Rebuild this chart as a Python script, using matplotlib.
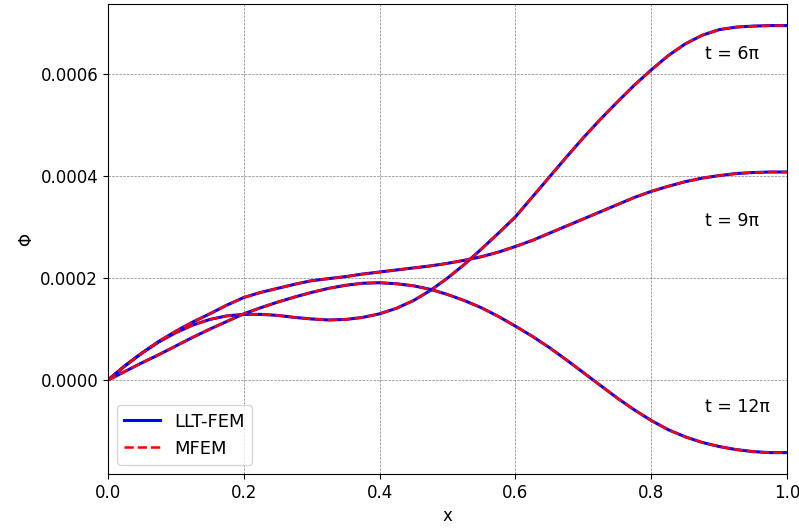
import matplotlib.pyplot as plt

# sample positions along x
x = [0, 0.025, 0.05, 0.075, 0.1, 0.125, 0.15, 0.175, 0.2, 0.225, 0.25, 0.275,
     0.3, 0.325, 0.35, 0.375, 0.4, 0.425, 0.45, 0.475, 0.5, 0.525, 0.55, 0.575,
     0.6, 0.625, 0.65, 0.675, 0.7, 0.725, 0.75, 0.775, 0.8, 0.825, 0.85, 0.875,
     0.9, 0.925, 0.95, 0.975, 1.0]

# Phi at t = 6pi
phi_6 = [0, 0.000028, 0.000053, 0.000075, 0.000093, 0.000108, 0.000119, 0.000126,
         0.000129, 0.000129, 0.000127, 0.000123, 0.00012, 0.000118, 0.000119,
         0.000123, 0.00013, 0.000141, 0.000156, 0.000176, 0.0002, 0.000227,
         0.000257, 0.000288, 0.00032, 0.000359, 0.000398, 0.000437, 0.000475,
         0.000511, 0.000545, 0.000578, 0.000608, 0.000636, 0.000659, 0.000676,
         0.000687, 0.000692, 0.000694, 0.000695, 0.000695]

# Phi at t = 9pi
phi_9 = [0, 0.000028, 0.000053, 0.000076, 0.000096, 0.000114, 0.00013, 0.000147,
         0.000162, 0.000172, 0.00018, 0.000188, 0.000195, 0.000199, 0.000203,
         0.000208, 0.000212, 0.000216, 0.00022, 0.000224, 0.000229, 0.000235,
         0.000242, 0.000251, 0.000262, 0.000274, 0.000288, 0.000302, 0.000316,
         0.00033, 0.000344, 0.000358, 0.00037, 0.00038, 0.000389, 0.000396,
         0.000401, 0.000405, 0.000407, 0.000408, 0.000408]

# Phi at t = 12pi
phi_12 = [0, 0.000017, 0.000034, 0.00005, 0.000067, 0.000084, 0.0001, 0.000115,
          0.00013, 0.000142, 0.000153, 0.000163, 0.000172, 0.00018, 0.000186,
          0.00019, 0.000191, 0.000189, 0.000185, 0.000178, 0.000168, 0.000156,
          0.000142, 0.000125, 0.000106, 0.000086, 0.000064, 0.00004, 0.000015,
          -0.00001, -0.000035, -0.000058, -0.000079, -0.000097, -0.000111,
          -0.000122, -0.00013, -0.000136, -0.00014, -0.000142, -0.000142]

curves = [phi_6, phi_9, phi_12]
labels = ["t = 6\u03c0", "t = 9\u03c0", "t = 12\u03c0"]
label_y = [0.00064, 0.000312, -0.000053]

fig = plt.figure(figsize=(7.99, 5.29), dpi=100)
ax = fig.add_axes([0.135, 0.104, 0.85, 0.888])

for i, phi in enumerate(curves):
    ax.plot(x, phi, color='blue', linewidth=2.2, label='LLT-FEM' if i == 0 else None)
    ax.plot(x, phi, color='red', linestyle='--', linewidth=1.8, label='MFEM' if i == 0 else None)

for lab, ly in zip(labels, label_y):
    ax.text(0.879, ly, lab, fontsize=12.5, va='center', ha='left')

ax.set_xlim(0, 1)
ax.set_xlabel('x', fontsize=12)
ax.set_ylabel('\u03a6', fontsize=12)
ax.tick_params(labelsize=12)
ax.grid(True, color='grey', linestyle='--', linewidth=0.5)
ax.legend(loc='lower left', fontsize=13)

fig.savefig('out.png', dpi=100)
